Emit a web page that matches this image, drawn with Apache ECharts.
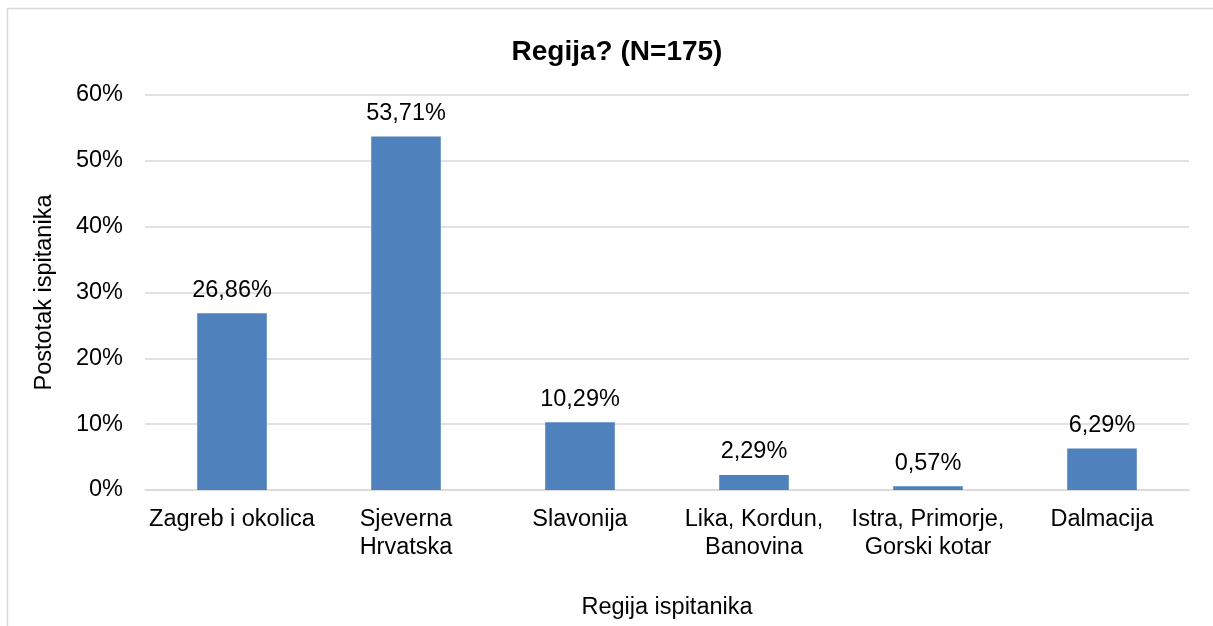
<!DOCTYPE html>
<html>
<head>
<meta charset="utf-8">
<script src="https://cdn.jsdelivr.net/npm/echarts@6/dist/echarts.min.js"></script>
<style>
html, body { margin: 0; padding: 0; background: #fff; }
#main { width: 1213px; height: 626px; }
</style>
</head>
<body>
<div id="main"></div>
<script>
var categories = ['Zagreb i okolica', 'Sjeverna\nHrvatska', 'Slavonija', 'Lika, Kordun,\nBanovina', 'Istra, Primorje,\nGorski kotar', 'Dalmacija'];
var values = [26.86, 53.71, 10.29, 2.29, 0.57, 6.29];
var yTicks = [0, 10, 20, 30, 40, 50, 60];

var font = 'Liberation Sans, Arial, sans-serif';
var myChart = echarts.init(document.getElementById('main'));
var option = {
    animation: false,
    title: {
        text: 'Regija? (N=175)',
        left: 612,
        top: 33,
        textAlign: 'center',
        textStyle: { fontFamily: font, fontSize: 28, fontWeight: 'bold', color: '#000' }
    },
    graphic: [{
        type: 'rect',
        shape: { x: 7.5, y: 8.5, width: 1400, height: 800 },
        style: { fill: 'none', stroke: '#d9d9d9', lineWidth: 1.5 },
        silent: true
    }],
    grid: {
        left: 145,
        right: 24,
        top: 95,
        bottom: 136,
        containLabel: false
    },
    xAxis: {
        type: 'category',
        data: categories,
        name: 'Regija ispitanika',
        nameLocation: 'middle',
        nameGap: 106,
        nameTextStyle: { fontFamily: font, fontSize: 23.5, color: '#000' },
        axisLine: { show: true, lineStyle: { color: '#d9d9d9', width: 1.5 } },
        axisTick: { show: false },
        axisLabel: {
            interval: 0,
            margin: 16,
            fontFamily: font,
            fontSize: 23.5,
            lineHeight: 28,
            color: '#000'
        }
    },
    yAxis: {
        type: 'value',
        min: yTicks[0],
        max: yTicks[yTicks.length - 1],
        interval: 10,
        name: 'Postotak ispitanika',
        nameLocation: 'middle',
        nameGap: 88,
        nameTextStyle: { fontFamily: font, fontSize: 23.5, color: '#000' },
        axisLine: { show: false },
        axisTick: { show: false },
        splitLine: { lineStyle: { color: '#d9d9d9', width: 1.5 } },
        axisLabel: {
            margin: 22,
            fontFamily: font,
            fontSize: 23.5,
            color: '#000',
            formatter: function (v) { return v + '%'; }
        }
    },
    series: [{
        type: 'bar',
        data: values,
        barCategoryGap: '60%',
        itemStyle: { color: '#4f81bd' },
        label: {
            show: true,
            position: 'top',
            distance: 11,
            fontFamily: font,
            fontSize: 23.5,
            color: '#000',
            formatter: function (p) { return p.value.toFixed(2).replace('.', ',') + '%'; }
        }
    }]
};
myChart.setOption(option);
</script>
</body>
</html>
